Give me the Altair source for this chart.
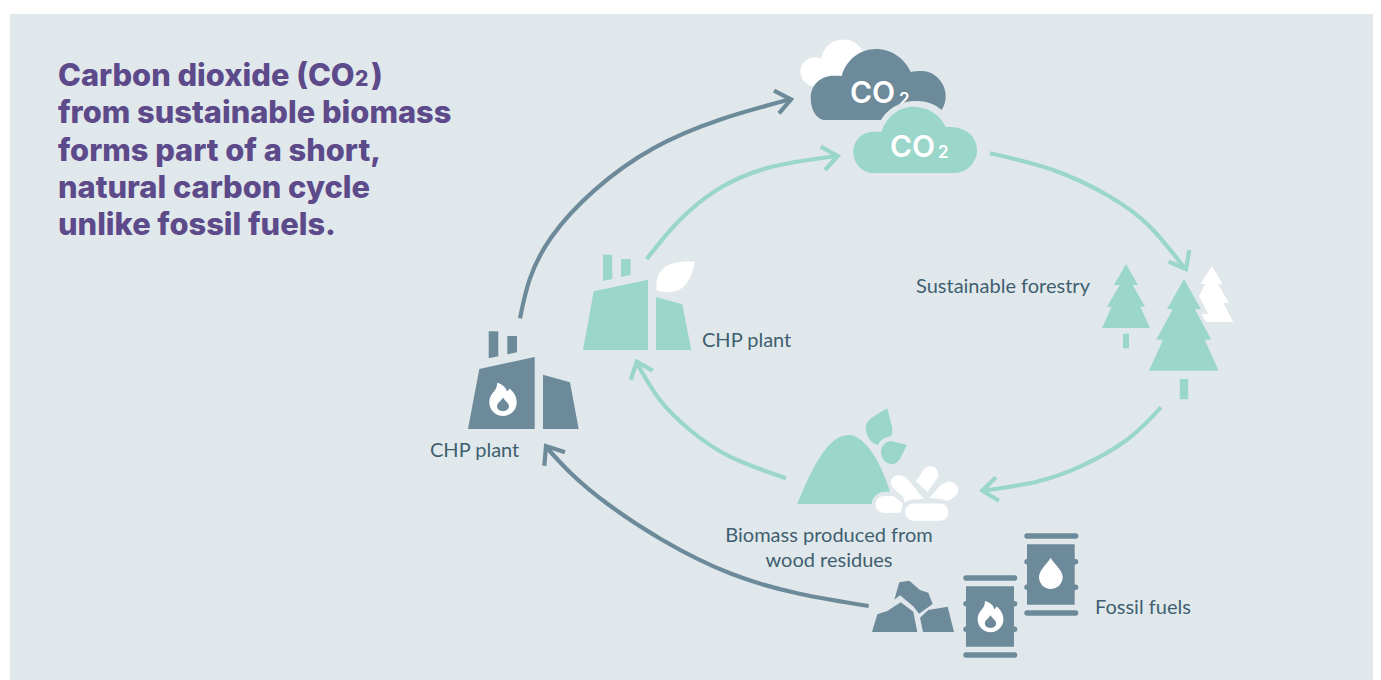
import re
import altair as alt
import pandas as pd

BG = "#e1e8ec"
SLATE = "#6d8a9a"
MINT = "#9ad6ca"
WHITE = "#ffffff"
PURPLE = "#5c4a8a"
INK = "#3f5f70"
FONT = "Lato"
HEAD_FONT = "Inter"

panel_x, panel_x2, panel_y, panel_y2 = [10], [1373], [14], [680]

back_circles = [("puff_small", 815, 71.7, 14.5), ("puff_big", 843.3, 61.7, 22.3)]

cloud_back = "M825 120 C817 120 810.7 110 810.7 98 C810.7 85 821 75.7 833 75.7 C836 75.7 839 75.8 841.7 76 C846 60 860 49 876 49 C892 49 905 59 910.7 72 C914 71 918 71 921.7 71 C935 71 945.7 83 945.7 96 C945.7 102 944 106 941.7 110 C935 104 926 101 916.7 101 C905 101 889 108 881.7 120 Z"
cloud_front = "M873 173 C862 173 853.3 163 853.3 152 C853.3 141 862 131.7 873.3 131.7 C876 131.7 879 131.7 881.7 131.7 C886 117 899 106.7 913.3 106.7 C928 106.7 941 115 945.7 127.3 C948 127 950 127 951.7 127.3 C966 127.3 977 137 977 150 C977 163 966 173 955 173 Z"

poly = lambda pts: "M" + " L".join(f"{a} {b}" for a, b in pts) + " Z"

plant_a = [
    (SLATE, poly([(468, 429), (479.3, 369), (534.7, 357), (534.7, 429)])),
    (SLATE, poly([(543, 374.7), (570, 382.3), (578.7, 429), (543, 429)])),
    (SLATE, poly([(488.7, 331.3), (498.3, 331.3), (498.3, 356.3), (488.7, 358.3)])),
    (SLATE, poly([(507.3, 336), (517, 336), (517, 352.3), (507.3, 354.3)])),
]
plant_b = [
    (MINT, poly([(583, 350), (593.7, 291.3), (648, 279.7), (648, 350)])),
    (MINT, poly([(656, 297), (682.3, 304.3), (691.3, 350), (656, 350)])),
    (MINT, poly([(603, 254.7), (612.3, 254.7), (612.3, 279), (603, 281)])),
    (MINT, poly([(621, 259), (630.7, 259), (630.7, 275), (621, 277)])),
    (WHITE, "M695 261.7 C680 261 668 263 662 270 C656 276 656 284 656.7 290 C664 293.5 675 293 682 288 C689 283 693 272 695 261.7 Z"),
]
flame = "M497 382.7 C502 384 506 387 507 391.5 C508 390.5 509 389.5 509.5 388.5 C514 392 516.7 397 516.7 402.5 C516.7 410 510.5 416 503 416 C495.5 416 489.3 410 489.3 402.5 C489.3 396 493 393 495 390 C496.5 388 497.3 385 497 382.7 Z"
flame_core = "M503 397.5 C505 401 509 403 509 406 C509 409 506.5 411 503 411 C499.5 411 497 409 497 406 C497 403 501 401 503 397.5 Z"
trees = [
    (WHITE, poly([(1211.7, 266), (1222.7, 284.3), (1218.3, 284.3), (1228.7, 302.7), (1223.3, 302.7), (1233.3, 322), (1206, 322), (1201.7, 314), (1208.3, 314), (1199, 296), (1205.3, 284), (1200.7, 284)])),
    (MINT, poly([(1126, 264), (1114, 285), (1119.7, 285), (1107, 306.7), (1111.7, 306.7), (1102, 328), (1150, 328), (1140.3, 306.7), (1145, 306.7), (1132.7, 285), (1138, 285)])),
    (MINT, poly([(1123, 333.7), (1129, 333.7), (1129, 348.3), (1123, 348.3)])),
    (MINT, poly([(1184, 279), (1167, 309.3), (1172.7, 309.3), (1156.3, 339.7), (1163, 339.7), (1149, 370.7), (1218.7, 370.7), (1204.7, 339.7), (1211.3, 339.7), (1195, 309.3), (1201, 309.3)])),
    (MINT, poly([(1179.7, 379), (1188.3, 379), (1188.3, 399.3), (1179.7, 399.3)])),
]
biomass = [
    (MINT, "M797.3 504 C812 468 828 435 848.3 435 C866 435 882 465 890 491.7 L884 491.7 C877 492 872 498 871.7 504 Z"),
    (MINT, "M887.3 408.3 L892.3 428 C892.5 432 891.5 436 890.5 436.5 C885 437 880 440 878.3 445 C872 444 865.7 437 865.7 428 C865.7 420 873 417 887.3 408.3 Z"),
    (MINT, "M907 445 L900 459 C897 463 894.5 464 891.7 464 C885.5 464 881 458.5 881 452 C881 446 885.5 441 891 441 Z"),
    (WHITE, "M884 496 L893.3 496 L902.7 503.3 L900.7 512.7 L884 513 C879 513 875.7 509 875.7 504.5 C875.7 500 879 496 884 496 Z"),
    (WHITE, "M906.7 478.3 L924 499 L915 499.5 C908 499.5 905 502 904.5 503 L903 496.7 L893.5 488.5 C890 485 890 480 893.5 477 C897 474 903 475 906.7 478.3 Z"),
    (WHITE, "M916 481 L923.5 470 C926 466 932 465 935.5 468 C938.5 471 939 475 937.3 478.3 L927.3 492.3 Z"),
    (WHITE, "M929 498.3 L939 487 C942 484 947 481 951 482 C956 483 958.3 487 958.3 490 C958.3 494 955 497 951 499 L947 501 C942 498.5 935 498 929 498.3 Z"),
    (WHITE, "M913.7 503.5 L940 503.5 C945 503.5 948.3 507.5 948.3 512 C948.3 516.5 945 520.7 940 520.7 L913.7 520.7 C909 520.7 905 516.5 905 512 C905 507.5 909 503.5 913.7 503.5 Z"),
]
rocks = [
    (SLATE, poly([(872, 632), (877.3, 614.3), (887.3, 611), (900.7, 602.3), (913.3, 611.7), (917.3, 632)])),
    (SLATE, poly([(894.3, 599.7), (899.3, 582.3), (909.3, 580.7), (920, 590), (928.3, 592.7), (932.7, 604), (919, 613.7), (913.7, 606.7), (900, 595.3)])),
    (SLATE, poly([(920, 617.7), (928.3, 610), (947.7, 606.7), (954, 632), (923, 632)])),
]
barrels = [
    (SLATE, poly([(966, 586.3), (1014, 586.3), (1014, 646.7), (966, 646.7)])),
    (SLATE, poly([(1027, 544.3), (1074.7, 544.3), (1074.7, 604.7), (1027, 604.7)])),
    (WHITE, "M1050.7 557.7 C1053 563 1062.7 570 1062.7 577 C1062.7 584 1057 589 1050.7 589 C1044.5 589 1039 584 1039 577 C1039 570 1048 563 1050.7 557.7 Z"),
]
barrel_bars = [
    (966, 1014.6, 578), (966, 1014.6, 655), (966, 1014.6, 603.7), (966, 1014.6, 629.3),
    (1027, 1075.6, 536), (1027, 1075.6, 613), (1027, 1075.6, 561.7), (1027, 1075.6, 587.3),
]

arrow_names = ["slate_up", "mint_up", "mint_right", "mint_down", "mint_left", "slate_low"]
arrow_colors = [SLATE, MINT, MINT, MINT, MINT, SLATE]
arrow_xs = [
    [520, 551.7, 653.3, 790],
    [646.7, 676.7, 716.7, 770, 836.7],
    [990, 1053.3, 1110, 1150, 1184.5],
    [1161, 1126.7, 1080, 1036.7, 984],
    [786, 730, 690, 660, 636.7],
    [868.7, 730, 606.7, 547],
]
arrow_ys = [
    [318.3, 236.7, 148.3, 99.3],
    [259, 223.3, 190, 167.3, 156],
    [153.3, 170, 196.7, 226.7, 268],
    [407.3, 440, 466.7, 481.7, 490.7],
    [478.3, 456.7, 430, 400, 363],
    [606, 573.3, 503.3, 448],
]
head_xs = [[774, 791, 779], [820.7, 837.7, 825], [1168.7, 1186, 1189.3], [996, 982.3, 999], [652.7, 636.7, 630.7], [565, 546, 544.3]]
head_ys = [[90.7, 99.3, 113.3], [146.7, 156, 170], [261.7, 269, 250], [477.3, 490.7, 500.7], [370.7, 361.7, 380], [452.3, 446, 465.7]]

title_lines = ["Carbon dioxide (CO", "from sustainable biomass", "forms part of a short,", "natural carbon cycle", "unlike fossil fuels."]
title_ys = [85.7, 123, 160.7, 198, 235.3]

labels = ["Sustainable forestry", "CHP plant", "CHP plant", "Fossil fuels"]
label_xs = [916, 702, 430, 1095]
label_ys = [293, 346.5, 457, 613.5]
centered = ["Biomass produced from", "wood residues"]
centered_ys = [542, 567]

X = alt.X("x:Q", scale=alt.Scale(domain=[8, 1373], nice=False, zero=False), axis=None)
Y = alt.Y("y:Q", scale=alt.Scale(domain=[680, 8], nice=False, zero=False), axis=None)
X2 = alt.X2("x2:Q")
Y2 = alt.Y2("y2:Q")


def outline(path, ax, ay):
    """Rewrite an outline relative to its anchor, so the anchor goes through the scales."""
    out, nums = [], re.findall(r"[MLCZ]|-?\d+\.?\d*", path)
    is_x = True
    for t in nums:
        if t in "MLCZ":
            out.append(t)
            is_x = True
        else:
            v = float(t) - (ax if is_x else ay)
            out.append(f"{v:.2f}")
            is_x = not is_x
    return " ".join(out)


def shapes(items, scale=1.0):
    rows = []
    for color, path in items:
        nums = [float(n) for n in re.findall(r"-?\d+\.?\d*", path)]
        ax, ay = nums[0], nums[1]
        rows.append({"x": ax, "y": ay, "path": outline(path, ax, ay), "size": 4 * scale**2, "color": color})
    return rows


def shape_layer(rows, **kw):
    opts = dict(filled=True, opacity=1, strokeWidth=0)
    opts.update(kw)
    enc = dict(x=X, y=Y, shape=alt.Shape("path:N", scale=None, legend=None), size=alt.Size("size:Q", scale=None, legend=None))
    if "fill" not in kw:
        enc["fill"] = alt.Fill("color:N", scale=None, legend=None)
    return alt.Chart(pd.DataFrame(rows)).mark_point(**opts).encode(**enc)


def text_layer(texts, xs, ys, color, size, weight=400, align="left", font=FONT):
    df = pd.DataFrame({"t": texts, "x": xs, "y": ys})
    return alt.Chart(df).mark_text(font=font, fontSize=size, fontWeight=weight, color=color, align=align, baseline="alphabetic").encode(x=X, y=Y, text="t:N")


panel = alt.Chart(pd.DataFrame({"x": panel_x, "x2": panel_x2, "y": panel_y, "y2": panel_y2})).mark_rect(color=BG).encode(x=X, x2=X2, y=Y, y2=Y2)

puffs = alt.Chart(pd.DataFrame({"n": [c[0] for c in back_circles], "x": [c[1] for c in back_circles], "y": [c[2] for c in back_circles], "size": [(2 * c[3]) ** 2 for c in back_circles]})).mark_circle(color=WHITE, opacity=1).encode(x=X, y=Y, size=alt.Size("size:Q", scale=None, legend=None))

back_cloud = shape_layer(shapes([(SLATE, cloud_back)]))
co_back = text_layer(["CO"], [850], [103], WHITE, 30, 600, font=HEAD_FONT)
two_back = text_layer(["2"], [899], [104.5], WHITE, 17, 600, font=HEAD_FONT)
halo = shape_layer(shapes([(BG, cloud_front)]), fill=BG, stroke=BG, strokeWidth=11)
front_cloud = shape_layer(shapes([(MINT, cloud_front)]))
co_front = text_layer(["CO"], [890], [157], WHITE, 30, 600, font=HEAD_FONT)
two_front = text_layer(["2"], [938], [158], WHITE, 17, 600, font=HEAD_FONT)

icons = shape_layer(shapes(plant_a + plant_b + trees + biomass + rocks))
pellet_gap = shape_layer(shapes([biomass[-1]]), fill=BG, stroke=BG, strokeWidth=3)
pellet_top = shape_layer(shapes([biomass[-1]]))

bars = alt.Chart(pd.DataFrame({"x": [b[0] for b in barrel_bars], "x2": [b[1] for b in barrel_bars], "y": [b[2] for b in barrel_bars]})).mark_rule(color=SLATE, size=5.4, strokeCap="round").encode(x=X, x2=X2, y=Y)
barrel_bodies = shape_layer(shapes(barrels))
flames = alt.layer(
    shape_layer(shapes([(WHITE, flame)])),
    shape_layer(shapes([(SLATE, flame_core)])),
)
flame_small = shape_layer([{"x": 984.9, "y": 601, "path": outline(flame, 497, 382.7), "size": 4 * 0.94**2, "color": WHITE}])
core_small = shape_layer([{"x": 990.5, "y": 615.2, "path": outline(flame_core, 503, 397.5), "size": 4 * 0.94**2, "color": SLATE}])

curve_rows, head_rows = [], []
for name, color, xs, ys, hx, hy in zip(arrow_names, arrow_colors, arrow_xs, arrow_ys, head_xs, head_ys):
    curve_rows += [{"n": name, "i": i, "x": a, "y": b, "color": color} for i, (a, b) in enumerate(zip(xs, ys))]
    head_rows += [{"n": name, "i": i, "x": a, "y": b, "color": color} for i, (a, b) in enumerate(zip(hx, hy))]


def line_layer(rows, **kw):
    return alt.Chart(pd.DataFrame(rows)).mark_line(strokeWidth=4.2, **kw).encode(
        x=X, y=Y, order="i:Q", detail="n:N", color=alt.Color("color:N", scale=None, legend=None))


curves = line_layer(curve_rows, interpolate="natural")
heads = line_layer(head_rows)

title = text_layer(title_lines, [58] * 5, title_ys, PURPLE, 30.8, 800, font=HEAD_FONT)
title_two = text_layer(["2"], [355], [85.7], PURPLE, 21, 800, font=HEAD_FONT)
title_close = text_layer([")"], [371], [85.7], PURPLE, 30.8, 800, font=HEAD_FONT)
body = text_layer(labels, label_xs, label_ys, INK, 20)
body_c = text_layer(centered, [829, 829], centered_ys, INK, 20, align="center")

chart = alt.layer(
    panel, puffs, back_cloud, co_back, two_back, halo, front_cloud, co_front, two_front,
    curves, heads, icons, pellet_gap, pellet_top, bars, barrel_bodies, flames, flame_small, core_small,
    title, title_two, title_close, body, body_c,
).properties(
    width=1365, height=672, padding=0, autosize=alt.AutoSizeParams(type="none"),
).configure_view(strokeWidth=0)

chart.save("out.html", embed_options={"renderer": "svg", "actions": False})
